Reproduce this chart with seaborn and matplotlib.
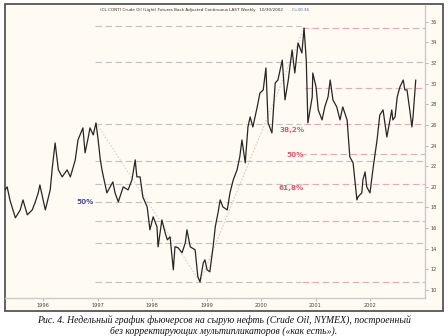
import matplotlib
matplotlib.use("Agg")
import matplotlib.pyplot as plt
import seaborn as sns
import pandas as pd
from matplotlib.patches import Rectangle

# ---------------- data ----------------
years = [1995.30, 1995.34, 1995.39, 1995.49, 1995.58, 1995.63, 1995.71, 1995.80, 1995.85, 1995.91,
         1995.94, 1996.00, 1996.04, 1996.13, 1996.17, 1996.22, 1996.28, 1996.35, 1996.44, 1996.50,
         1996.59, 1996.64, 1996.73, 1996.77, 1996.83, 1996.86, 1996.92, 1996.97, 1997.01, 1997.05,
         1997.08, 1997.17, 1997.28, 1997.32, 1997.38, 1997.47, 1997.56, 1997.63, 1997.69, 1997.72,
         1997.78, 1997.83, 1997.91, 1997.96, 1998.02, 1998.09, 1998.11, 1998.18, 1998.24, 1998.28,
         1998.33, 1998.39, 1998.42, 1998.48, 1998.55, 1998.61, 1998.64, 1998.70, 1998.79, 1998.84,
         1998.88, 1998.94, 1998.97, 1999.01, 1999.06, 1999.12, 1999.16, 1999.21, 1999.25, 1999.30,
         1999.38, 1999.43, 1999.49, 1999.56, 1999.61, 1999.65, 1999.71, 1999.76, 1999.80, 1999.85,
         1999.93, 1999.98, 2000.04, 2000.09, 2000.13, 2000.20, 2000.26, 2000.31, 2000.39, 2000.44,
         2000.50, 2000.57, 2000.62, 2000.68, 2000.75, 2000.79, 2000.83, 2000.86, 2000.94, 2000.95,
         2001.01, 2001.05, 2001.12, 2001.17, 2001.23, 2001.27, 2001.32, 2001.39, 2001.45, 2001.50,
         2001.58, 2001.63, 2001.69, 2001.76, 2001.78, 2001.85, 2001.87, 2001.91, 2001.94, 2002.00,
         2002.06, 2002.13, 2002.18, 2002.24, 2002.31, 2002.40, 2002.42, 2002.46, 2002.50, 2002.55,
         2002.61, 2002.64, 2002.68, 2002.73, 2002.77, 2002.79, 2002.84]
prices = [19.70, 19.99, 18.73, 16.99, 17.76, 18.73, 17.28, 17.76, 18.44, 19.41,
          20.18, 18.73, 17.76, 19.70, 21.93, 24.25, 21.64, 20.96, 21.64, 20.96,
          22.61, 24.54, 25.71, 23.29, 24.83, 25.71, 25.03, 26.19, 24.54, 22.61,
          21.64, 19.41, 20.47, 19.41, 18.54, 19.99, 19.70, 20.67, 22.61, 20.96,
          20.96, 19.02, 18.05, 15.83, 17.09, 16.12, 14.18, 16.79, 15.54, 14.86,
          15.15, 11.95, 14.18, 14.08, 13.60, 14.57, 15.83, 14.18, 13.89, 11.27,
          10.78, 12.63, 12.92, 11.95, 11.76, 14.18, 16.12, 17.47, 18.73, 18.05,
          17.76, 19.41, 20.67, 21.64, 22.90, 24.54, 22.32, 25.80, 26.77, 25.80,
          27.74, 29.09, 29.39, 31.52, 26.19, 25.22, 30.06, 30.35, 32.29, 28.42,
          30.35, 33.26, 31.03, 33.94, 32.97, 35.39, 32.29, 26.19, 28.71, 31.03,
          29.68, 27.45, 26.48, 27.74, 28.71, 30.35, 28.42, 27.74, 26.48, 27.74,
          26.48, 22.90, 22.32, 18.73, 19.02, 19.41, 20.67, 21.44, 19.99, 19.41,
          21.93, 24.54, 26.96, 27.45, 24.83, 27.45, 26.48, 26.77, 28.71, 29.68,
          30.35, 29.39, 29.39, 27.45, 25.80, 26.77, 30.35]

# Fibonacci levels from the 1997 high / 1998 low (grey) and 1998 low / 2000 high (pink)
grey_levels = [35.6, 32.1, 26.1, 22.5, 20.3, 18.5, 16.7, 14.55, 10.8]
grey_ends = [2000.74, 2003.01, 2000.74, 2003.01, 2000.74, 2003.01, 2000.74, 2003.01, 2000.74]
pink_levels = [35.4, 29.6, 26.1, 23.2, 20.3, 16.7, 10.8]
pink_starts = [2000.76, 2000.80, 2000.78, 2000.72, 2000.76, 2000.76, 2000.76]
grey_start = 1996.95

grey_diag_x = [1996.97, 1998.88]
grey_diag_y = [26.19, 10.78]
pink_diag_x = [1998.88, 2000.79]
pink_diag_y = [10.78, 35.39]

pct_labels = ["38,2%", "50%", "61,8%"]
pct_x = [2000.57, 2000.62, 2000.55]
pct_y = [25.55, 23.1, 19.85]

y_ticks = [36, 34, 32, 30, 28, 26, 24, 22, 20, 18, 16, 14, 12, 10]
x_ticks = [1996, 1997, 1998, 1999, 2000, 2001, 2002]

title_main = "(CL CONT) Crude Oil (Light) Futures Back Adjusted Continuous LAST Weekly   10/30/2002"
title_last = "C=30.36"
caption = ("Рис. 4. Недельный график фьючерсов на сырую нефть (Crude Oil, NYMEX), построенный\n"
           "без корректирующих мультипликаторов («как есть»).")

# ---------------- figure ----------------
sns.set_theme(style="white")
plt.rcParams["font.family"] = ["DejaVu Sans"]

W, H = 448, 336
fig = plt.figure(figsize=(W / 100, H / 100), dpi=100)
fig.patch.set_facecolor("white")

# outer frame with cream background
frame = Rectangle((5 / W, 1 - 311 / H), (443 - 5) / W, (311 - 4) / H,
                  transform=fig.transFigure, facecolor="#fffbf2",
                  edgecolor="#555555", linewidth=1.3, zorder=-10)
fig.patches.append(frame)

ax = fig.add_axes([5 / W, 1 - 298 / H, (425 - 5) / W, (298 - 5) / H])
ax.set_facecolor("none")
ax.set_zorder(5)

grey_c = "#c2c2c2"
pink_c = "#eba7b5"
dash = (0, (5.5, 3))

for lv, xe in zip(grey_levels, grey_ends):
    ax.hlines(lv, grey_start, xe, colors=grey_c, linestyles=dash, linewidth=0.85, zorder=1)
for lv, xs in zip(pink_levels, pink_starts):
    ax.hlines(lv, xs, 2003.01, colors=pink_c, linestyles=dash, linewidth=0.85, zorder=1)

ax.plot(grey_diag_x, grey_diag_y, color="#d4d4d4", linestyle=(0, (1.5, 1.5)), linewidth=0.8, zorder=1)
ax.plot(pink_diag_x, pink_diag_y, color="#f2bcc7", linestyle=(0, (1.5, 1.5)), linewidth=0.8, zorder=1)

df = pd.DataFrame({"year": years, "price": prices})
sns.lineplot(data=df, x="year", y="price", ax=ax, sort=False, estimator=None,
             color="#262626", linewidth=0.9, zorder=3)

for t, x, y in zip(pct_labels, pct_x, pct_y):
    ax.text(x, y, t, color="#e05a6e", fontsize=5.2, fontweight="bold",
            ha="center", va="center", zorder=4)
ax.text(1996.77, 18.5, "50%", color="#4b4b9a", fontsize=5.2, fontweight="bold",
        ha="center", va="center", zorder=4)

ax.set_xlim(1995.30, 2003.01)
ax.set_ylim(9.22, 37.62)
ax.set_xticks(x_ticks)
ax.set_xticklabels([str(v) for v in x_ticks])
ax.set_yticks(y_ticks)
ax.set_yticklabels([str(v) for v in y_ticks])
ax.yaxis.tick_right()
ax.set_xlabel("")
ax.set_ylabel("")
for s in ["left", "top"]:
    ax.spines[s].set_visible(False)
for s in ["right", "bottom"]:
    ax.spines[s].set_visible(True)
    ax.spines[s].set_color("#c9c9d2")
    ax.spines[s].set_linewidth(1.0)
ax.tick_params(axis="y", which="both", right=True, length=2, width=0.6, color="#aaaaaa",
               labelsize=3.6, labelcolor="#444444", pad=2)
ax.tick_params(axis="x", which="both", bottom=True, length=2, width=0.6, color="#aaaaaa",
               labelsize=3.6, labelcolor="#444444", pad=1.5)

fig.text(100 / W, 1 - 10 / H, title_main, fontsize=3.0, color="#333333",
         ha="left", va="center")
fig.text(292 / W, 1 - 10 / H, title_last, fontsize=3.0, color="#4a62c0",
         ha="left", va="center")

fig.text(0.5, 1 - 326 / H, caption, fontsize=7.0, style="italic",
         family=["Liberation Serif", "DejaVu Serif"], color="#111111",
         ha="center", va="center", linespacing=1.1)

fig.savefig("out.png", dpi=100, facecolor="white")
